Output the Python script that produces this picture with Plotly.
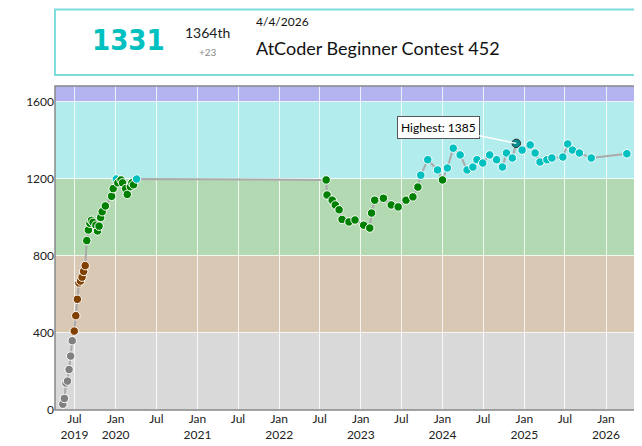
import plotly.graph_objects as go

dates = ["2019-05-10","2019-05-17","2019-05-24","2019-05-31","2019-06-07","2019-06-14","2019-06-21","2019-06-30",
 "2019-07-07","2019-07-14","2019-07-21","2019-07-28","2019-08-04","2019-08-11","2019-08-18","2019-08-25",
 "2019-09-01","2019-09-08","2019-09-15","2019-09-22","2019-10-05","2019-10-12","2019-10-19","2019-10-26",
 "2019-11-02","2019-11-16","2019-12-14","2019-12-21","2020-01-04","2020-01-11","2020-01-25","2020-02-01",
 "2020-02-15","2020-02-22","2020-03-07","2020-03-14","2020-03-21","2020-04-04",
 "2022-07-30","2022-08-03","2022-08-26","2022-09-09","2022-09-26","2022-10-09","2022-11-09","2022-12-06",
 "2023-01-14","2023-02-10","2023-02-18","2023-03-04","2023-04-12","2023-05-17","2023-06-17","2023-07-22",
 "2023-08-22","2023-09-13","2023-09-26","2023-10-27","2023-12-10","2024-01-01","2024-01-23","2024-02-18",
 "2024-03-20","2024-04-20","2024-05-16","2024-06-03","2024-06-29","2024-07-30","2024-08-30","2024-09-25",
 "2024-10-13","2024-11-08","2024-11-26","2024-12-22","2025-01-27","2025-02-18","2025-03-12","2025-04-12",
 "2025-05-04","2025-06-22","2025-07-14","2025-08-04","2025-09-04","2025-10-27","2026-04-04"]
ratings = [30,60,140,150,210,280,360,410,490,575,660,670,690,720,750,880,
 935,970,985,975,960,930,955,1000,1030,1060,1110,1150,1200,1180,1195,1180,
 1150,1120,1160,1180,1170,1200,
 1195,1117,1090,1065,1040,990,977,987,960,945,1023,1090,1100,1065,1055,1090,
 1107,1158,1220,1300,1247,1195,1257,1360,1325,1247,1262,1300,1283,1325,1300,1262,
 1335,1309,1385,1350,1377,1335,1288,1300,1309,1314,1382,1350,1335,1309,1331]

tick_vals = ["2019-07-01","2020-01-01","2020-07-01","2021-01-01","2021-07-01","2022-01-01","2022-07-01",
 "2023-01-01","2023-07-01","2024-01-01","2024-07-01","2025-01-01","2025-07-01","2026-01-01"]
tick_text = ["Jul<br>2019","Jan<br>2020","Jul","Jan<br>2021","Jul","Jan<br>2022","Jul",
 "Jan<br>2023","Jul","Jan<br>2024","Jul","Jan<br>2025","Jul","Jan<br>2026"]
y_ticks = [0,400,800,1200,1600]

bands = [(0,400,"#D9D9D9"),(400,800,"#D9C8B3"),(800,1200,"#B3D9B3"),(1200,1600,"#B3ECEC"),(1600,2000,"#B3B3F0")]

def col(r):
    if r < 400: return "#808080"
    if r < 800: return "#804000"
    if r < 1200: return "#008000"
    return "#00C0C0"

imax = ratings.index(max(ratings))
mcolors = [col(r) for r in ratings]
mcolors[imax] = "#009090"
lcolors = ["white"] * len(ratings)
lcolors[imax] = "#333333"

fig = go.Figure()
shapes = []
for lo, hi, c in bands:
    shapes.append(dict(type="rect", xref="paper", yref="y", x0=0, x1=1, y0=lo, y1=hi,
                       fillcolor=c, line_width=0, layer="below"))
shapes.append(dict(type="rect", xref="paper", yref="paper", x0=0, x1=1, y0=0, y1=1,
                   line=dict(color="#888", width=1.5)))
shapes.append(dict(type="rect", xref="paper", yref="paper", x0=0, x1=1, y0=1.034, y1=1.236,
                   line=dict(color="#7FDCDC", width=2), fillcolor="white"))

fig.add_trace(go.Scatter(x=dates, y=ratings, mode="lines+markers", cliponaxis=False,
    line=dict(color="#AAAAAA", width=2),
    marker=dict(size=8.5, color=mcolors, line=dict(color=lcolors, width=1)),
    hoverinfo="skip"))

fig.add_annotation(x=dates[imax], y=ratings[imax], text="Highest: %d" % ratings[imax],
    showarrow=True, arrowhead=0, arrowcolor="white", arrowwidth=1.5, ax=-78, ay=-16,
    bgcolor="white", bordercolor="#555", borderwidth=1, borderpad=3,
    font=dict(family="Lato", size=12, color="black"))
fig.add_annotation(xref="paper", yref="paper", x=0.126, y=1.142, xanchor="center", yanchor="middle",
    text="<b>1331</b>", showarrow=False,
    font=dict(family="DejaVu Sans Condensed", size=29, color="#00C0C0"))
fig.add_annotation(xref="paper", yref="paper", x=0.263, y=1.164, xanchor="center", yanchor="middle",
    text="1364th", showarrow=False, font=dict(family="Lato", size=14, color="#222"))
fig.add_annotation(xref="paper", yref="paper", x=0.263, y=1.105, xanchor="center", yanchor="middle",
    text="+23", showarrow=False, font=dict(family="Lato", size=10, color="#888"))
fig.add_annotation(xref="paper", yref="paper", x=0.342, y=1.198, yanchor="middle", xanchor="left", text="4/4/2026", showarrow=False,
    font=dict(family="Lato", size=12, color="#111"))
fig.add_annotation(xref="paper", yref="paper", x=0.342, y=1.117, yanchor="middle", xanchor="left", text="AtCoder Beginner Contest 452",
    showarrow=False, font=dict(family="Lato", size=18, color="#111"))

fig.update_layout(width=634, height=438, margin=dict(l=47, r=6, t=78, b=36, autoexpand=False),
    paper_bgcolor="white", plot_bgcolor="rgba(0,0,0,0)", showlegend=False, shapes=shapes,
    font=dict(family="Lato", size=12, color="#222"))
fig.update_xaxes(range=["2019-04-05","2026-05-15"], tickvals=tick_vals, ticktext=tick_text, automargin=False,
    showgrid=True, gridcolor="rgba(255,255,255,0.8)", zeroline=False, ticks="", tickfont=dict(size=12))
fig.update_yaxes(range=[0,1683], tickvals=y_ticks, showgrid=True, gridcolor="rgba(255,255,255,0.8)", automargin=False,
    zeroline=False, ticks="", tickfont=dict(size=12))
fig.write_html("out.html")
